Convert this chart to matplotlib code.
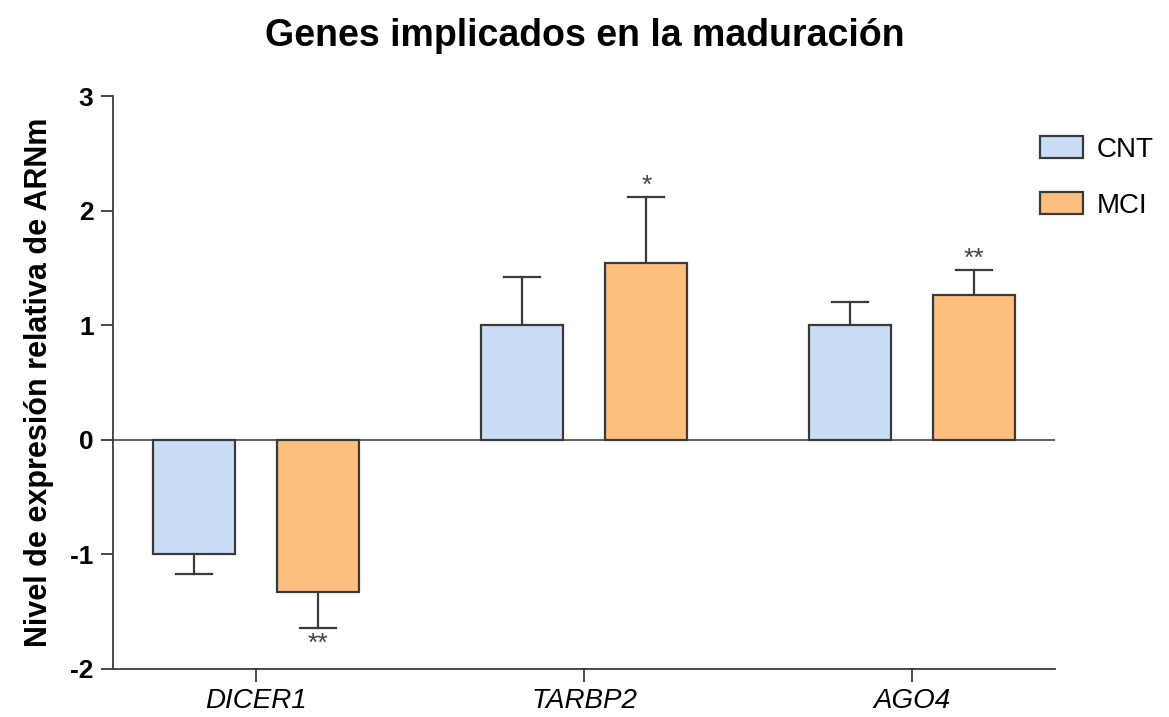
import numpy as np
import matplotlib.pyplot as plt

plt.rcParams["font.family"] = ["Liberation Sans", "DejaVu Sans"]
plt.rcParams["axes.unicode_minus"] = False

genes = ["DICER1", "TARBP2", "AGO4"]
cnt_vals = [-1.0, 1.0, 1.0]
cnt_err = [0.17, 0.42, 0.20]
mci_vals = [-1.33, 1.54, 1.26]
mci_err = [0.31, 0.58, 0.22]
mci_sig = ["**", "*", "**"]

c_cnt = "#c9ddf5"
c_mci = "#fdbe7e"
c_line = "#3a3a3a"

fig = plt.figure(figsize=(11.69, 7.17), dpi=100)
ax = fig.add_axes([113 / 1169, 1 - 669 / 717, (1055 - 113) / 1169, (669 - 96) / 717])

x = np.arange(len(genes))
off = 0.19
w = 0.25

ax.axhline(0, color="#555555", lw=1.3, zorder=1)

def draw_group(pos, vals, errs, color, label):
    bars = ax.bar(pos, vals, w, color=color, edgecolor=c_line, lw=1.6,
                  label=label, zorder=3)
    for xi, v, e in zip(pos, vals, errs):
        tip = v + e if v >= 0 else v - e
        ax.plot([xi, xi], [v, tip], color=c_line, lw=1.6, zorder=2)
        ax.plot([xi - 0.055, xi + 0.055], [tip, tip], color=c_line, lw=1.6, zorder=2)
    return bars

draw_group(x - off, cnt_vals, cnt_err, c_cnt, "CNT")
draw_group(x + off, mci_vals, mci_err, c_mci, "MCI")

# significance stars above/below the MCI error bars
for xi, v, e, s in zip(x + off, mci_vals, mci_err, mci_sig):
    if v >= 0:
        ax.text(xi, v + e - 0.01, s, ha="center", va="bottom", fontsize=19, color="#444444")
    else:
        ax.text(xi, v - e - 0.04, s, ha="center", va="top", fontsize=19, color="#444444")

ax.set_xlim(-0.436, 2.436)
ax.set_ylim(-2, 3)
ax.set_yticks([-2, -1, 0, 1, 2, 3])
ax.set_xticks(x)
ax.set_xticklabels(genes, fontstyle="italic", fontsize=20)
for lbl in ax.get_yticklabels():
    lbl.set_fontweight("bold")
    lbl.set_fontsize(19)

for s in ["top", "right"]:
    ax.spines[s].set_visible(False)
for s in ["left", "bottom"]:
    ax.spines[s].set_color(c_line)
    ax.spines[s].set_linewidth(1.3)
ax.tick_params(axis="both", color=c_line, width=1.3, length=9, pad=5)

ax.set_ylabel("Nivel de expresión relativa de ARNm", fontsize=22, fontweight="bold", labelpad=12)
fig.suptitle("Genes implicados en la maduración", fontsize=27, fontweight="bold", y=0.975)

leg = ax.legend(loc="upper left", bbox_to_anchor=(0.984, 0.93), frameon=False, fontsize=20,
                handlelength=1.55, handleheight=0.85, labelspacing=1.05, handletextpad=0.5,
                borderpad=0, borderaxespad=0)

fig.savefig("out.png", dpi=100)
